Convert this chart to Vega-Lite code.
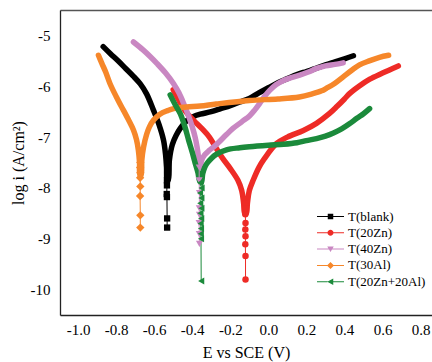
{
"$schema": "https://vega.github.io/schema/vega-lite/v6.json",
"width": 372, "height": 305,
"autosize": {"type": "none"},
"padding": {"left": 60, "top": 10, "right": 0, "bottom": 47},
"config": {
  "view": {"stroke": null},
  "font": "Liberation Serif",
  "axis": {"grid": false, "domainColor": "#222", "domainWidth": 1.3, "tickColor": "#222", "tickWidth": 1.2, "labelColor": "#000", "titleColor": "#000", "labelFont": "Liberation Serif", "titleFont": "Liberation Serif", "labelFontSize": 15, "titleFontSize": 16, "titleFontWeight": "normal"},
  "legend": {"labelFont": "Liberation Serif"}
},
"datasets": {
"band": [
{"s":"T(blank)","o":1,"x":-0.868,"y":-5.22},{"s":"T(blank)","o":2,"x":-0.83,"y":-5.36},{"s":"T(blank)","o":3,"x":-0.79,"y":-5.5},{"s":"T(blank)","o":4,"x":-0.75,"y":-5.65},{"s":"T(blank)","o":5,"x":-0.71,"y":-5.8},{"s":"T(blank)","o":6,"x":-0.674,"y":-5.95},{"s":"T(blank)","o":7,"x":-0.64,"y":-6.15},{"s":"T(blank)","o":8,"x":-0.604,"y":-6.47},{"s":"T(blank)","o":9,"x":-0.575,"y":-6.75},{"s":"T(blank)","o":10,"x":-0.551,"y":-7.06},{"s":"T(blank)","o":11,"x":-0.54,"y":-7.35},{"s":"T(blank)","o":12,"x":-0.535,"y":-7.6},{"s":"T(blank)","o":13,"x":-0.532,"y":-7.85},{"s":"T(blank)","o":14,"x":-0.526,"y":-7.85},{"s":"T(blank)","o":15,"x":-0.52,"y":-7.45},{"s":"T(blank)","o":16,"x":-0.505,"y":-7.15},{"s":"T(blank)","o":17,"x":-0.485,"y":-6.97},{"s":"T(blank)","o":18,"x":-0.463,"y":-6.83},{"s":"T(blank)","o":19,"x":-0.43,"y":-6.68},{"s":"T(blank)","o":20,"x":-0.39,"y":-6.59},{"s":"T(blank)","o":21,"x":-0.358,"y":-6.55},{"s":"T(blank)","o":22,"x":-0.3,"y":-6.5},{"s":"T(blank)","o":23,"x":-0.25,"y":-6.44},{"s":"T(blank)","o":24,"x":-0.2,"y":-6.38},{"s":"T(blank)","o":25,"x":-0.15,"y":-6.31},{"s":"T(blank)","o":26,"x":-0.1,"y":-6.24},{"s":"T(blank)","o":27,"x":-0.05,"y":-6.13},{"s":"T(blank)","o":28,"x":0.0,"y":-6.03},{"s":"T(blank)","o":29,"x":0.05,"y":-5.93},{"s":"T(blank)","o":30,"x":0.1,"y":-5.85},{"s":"T(blank)","o":31,"x":0.15,"y":-5.77},{"s":"T(blank)","o":32,"x":0.2,"y":-5.71},{"s":"T(blank)","o":33,"x":0.25,"y":-5.65},{"s":"T(blank)","o":34,"x":0.3,"y":-5.58},{"s":"T(blank)","o":35,"x":0.35,"y":-5.52},{"s":"T(blank)","o":36,"x":0.4,"y":-5.46},{"s":"T(blank)","o":37,"x":0.447,"y":-5.4},
{"s":"T(20Zn)","o":1,"x":-0.5,"y":-6.07},{"s":"T(20Zn)","o":2,"x":-0.47,"y":-6.28},{"s":"T(20Zn)","o":3,"x":-0.43,"y":-6.52},{"s":"T(20Zn)","o":4,"x":-0.39,"y":-6.68},{"s":"T(20Zn)","o":5,"x":-0.35,"y":-6.83},{"s":"T(20Zn)","o":6,"x":-0.31,"y":-7.0},{"s":"T(20Zn)","o":7,"x":-0.274,"y":-7.22},{"s":"T(20Zn)","o":8,"x":-0.24,"y":-7.42},{"s":"T(20Zn)","o":9,"x":-0.2,"y":-7.62},{"s":"T(20Zn)","o":10,"x":-0.16,"y":-7.85},{"s":"T(20Zn)","o":11,"x":-0.14,"y":-8.05},{"s":"T(20Zn)","o":12,"x":-0.13,"y":-8.3},{"s":"T(20Zn)","o":13,"x":-0.124,"y":-8.5},{"s":"T(20Zn)","o":14,"x":-0.116,"y":-8.5},{"s":"T(20Zn)","o":15,"x":-0.11,"y":-8.3},{"s":"T(20Zn)","o":16,"x":-0.1,"y":-8.05},{"s":"T(20Zn)","o":17,"x":-0.08,"y":-7.85},{"s":"T(20Zn)","o":18,"x":-0.05,"y":-7.6},{"s":"T(20Zn)","o":19,"x":-0.02,"y":-7.42},{"s":"T(20Zn)","o":20,"x":0.042,"y":-7.13},{"s":"T(20Zn)","o":21,"x":0.1,"y":-7.0},{"s":"T(20Zn)","o":22,"x":0.184,"y":-6.87},{"s":"T(20Zn)","o":23,"x":0.253,"y":-6.73},{"s":"T(20Zn)","o":24,"x":0.32,"y":-6.54},{"s":"T(20Zn)","o":25,"x":0.36,"y":-6.4},{"s":"T(20Zn)","o":26,"x":0.4,"y":-6.25},{"s":"T(20Zn)","o":27,"x":0.428,"y":-6.14},{"s":"T(20Zn)","o":28,"x":0.48,"y":-5.99},{"s":"T(20Zn)","o":29,"x":0.533,"y":-5.86},{"s":"T(20Zn)","o":30,"x":0.6,"y":-5.74},{"s":"T(20Zn)","o":31,"x":0.683,"y":-5.6},
{"s":"T(40Zn)","o":1,"x":-0.709,"y":-5.13},{"s":"T(40Zn)","o":2,"x":-0.66,"y":-5.28},{"s":"T(40Zn)","o":3,"x":-0.62,"y":-5.42},{"s":"T(40Zn)","o":4,"x":-0.586,"y":-5.55},{"s":"T(40Zn)","o":5,"x":-0.54,"y":-5.74},{"s":"T(40Zn)","o":6,"x":-0.498,"y":-5.95},{"s":"T(40Zn)","o":7,"x":-0.47,"y":-6.13},{"s":"T(40Zn)","o":8,"x":-0.445,"y":-6.34},{"s":"T(40Zn)","o":9,"x":-0.42,"y":-6.58},{"s":"T(40Zn)","o":10,"x":-0.4,"y":-6.8},{"s":"T(40Zn)","o":11,"x":-0.385,"y":-7.0},{"s":"T(40Zn)","o":12,"x":-0.375,"y":-7.19},{"s":"T(40Zn)","o":13,"x":-0.367,"y":-7.4},{"s":"T(40Zn)","o":14,"x":-0.364,"y":-7.6},{"s":"T(40Zn)","o":15,"x":-0.36,"y":-7.6},{"s":"T(40Zn)","o":16,"x":-0.35,"y":-7.45},{"s":"T(40Zn)","o":17,"x":-0.335,"y":-7.35},{"s":"T(40Zn)","o":18,"x":-0.31,"y":-7.26},{"s":"T(40Zn)","o":19,"x":-0.274,"y":-7.15},{"s":"T(40Zn)","o":20,"x":-0.22,"y":-6.95},{"s":"T(40Zn)","o":21,"x":-0.186,"y":-6.83},{"s":"T(40Zn)","o":22,"x":-0.14,"y":-6.7},{"s":"T(40Zn)","o":23,"x":-0.098,"y":-6.58},{"s":"T(40Zn)","o":24,"x":-0.07,"y":-6.46},{"s":"T(40Zn)","o":25,"x":-0.046,"y":-6.34},{"s":"T(40Zn)","o":26,"x":-0.02,"y":-6.2},{"s":"T(40Zn)","o":27,"x":0.007,"y":-6.08},{"s":"T(40Zn)","o":28,"x":0.04,"y":-5.97},{"s":"T(40Zn)","o":29,"x":0.077,"y":-5.89},{"s":"T(40Zn)","o":30,"x":0.12,"y":-5.83},{"s":"T(40Zn)","o":31,"x":0.165,"y":-5.78},{"s":"T(40Zn)","o":32,"x":0.21,"y":-5.72},{"s":"T(40Zn)","o":33,"x":0.253,"y":-5.65},{"s":"T(40Zn)","o":34,"x":0.3,"y":-5.6},{"s":"T(40Zn)","o":35,"x":0.35,"y":-5.57},{"s":"T(40Zn)","o":36,"x":0.393,"y":-5.54},
{"s":"T(30Al)","o":1,"x":-0.893,"y":-5.39},{"s":"T(30Al)","o":2,"x":-0.875,"y":-5.55},{"s":"T(30Al)","o":3,"x":-0.855,"y":-5.72},{"s":"T(30Al)","o":4,"x":-0.832,"y":-5.95},{"s":"T(30Al)","o":5,"x":-0.8,"y":-6.2},{"s":"T(30Al)","o":6,"x":-0.762,"y":-6.47},{"s":"T(30Al)","o":7,"x":-0.735,"y":-6.66},{"s":"T(30Al)","o":8,"x":-0.709,"y":-6.86},{"s":"T(30Al)","o":9,"x":-0.693,"y":-7.05},{"s":"T(30Al)","o":10,"x":-0.683,"y":-7.26},{"s":"T(30Al)","o":11,"x":-0.677,"y":-7.5},{"s":"T(30Al)","o":12,"x":-0.675,"y":-7.75},{"s":"T(30Al)","o":13,"x":-0.669,"y":-7.75},{"s":"T(30Al)","o":14,"x":-0.665,"y":-7.45},{"s":"T(30Al)","o":15,"x":-0.656,"y":-7.2},{"s":"T(30Al)","o":16,"x":-0.64,"y":-6.95},{"s":"T(30Al)","o":17,"x":-0.625,"y":-6.8},{"s":"T(30Al)","o":18,"x":-0.604,"y":-6.67},{"s":"T(30Al)","o":19,"x":-0.57,"y":-6.55},{"s":"T(30Al)","o":20,"x":-0.53,"y":-6.48},{"s":"T(30Al)","o":21,"x":-0.498,"y":-6.44},{"s":"T(30Al)","o":22,"x":-0.43,"y":-6.41},{"s":"T(30Al)","o":23,"x":-0.358,"y":-6.39},{"s":"T(30Al)","o":24,"x":-0.274,"y":-6.35},{"s":"T(30Al)","o":25,"x":-0.1,"y":-6.28},{"s":"T(30Al)","o":26,"x":0.05,"y":-6.25},{"s":"T(30Al)","o":27,"x":0.163,"y":-6.21},{"s":"T(30Al)","o":28,"x":0.23,"y":-6.15},{"s":"T(30Al)","o":29,"x":0.28,"y":-6.09},{"s":"T(30Al)","o":30,"x":0.305,"y":-6.04},{"s":"T(30Al)","o":31,"x":0.35,"y":-5.94},{"s":"T(30Al)","o":32,"x":0.395,"y":-5.81},{"s":"T(30Al)","o":33,"x":0.44,"y":-5.68},{"s":"T(30Al)","o":34,"x":0.479,"y":-5.58},{"s":"T(30Al)","o":35,"x":0.53,"y":-5.5},{"s":"T(30Al)","o":36,"x":0.584,"y":-5.43},{"s":"T(30Al)","o":37,"x":0.632,"y":-5.39},
{"s":"T(20Zn+20Al)","o":1,"x":-0.516,"y":-6.17},{"s":"T(20Zn+20Al)","o":2,"x":-0.49,"y":-6.36},{"s":"T(20Zn+20Al)","o":3,"x":-0.463,"y":-6.54},{"s":"T(20Zn+20Al)","o":4,"x":-0.44,"y":-6.78},{"s":"T(20Zn+20Al)","o":5,"x":-0.419,"y":-7.06},{"s":"T(20Zn+20Al)","o":6,"x":-0.4,"y":-7.3},{"s":"T(20Zn+20Al)","o":7,"x":-0.384,"y":-7.52},{"s":"T(20Zn+20Al)","o":8,"x":-0.37,"y":-7.7},{"s":"T(20Zn+20Al)","o":9,"x":-0.362,"y":-7.85},{"s":"T(20Zn+20Al)","o":10,"x":-0.352,"y":-7.9},{"s":"T(20Zn+20Al)","o":11,"x":-0.345,"y":-7.72},{"s":"T(20Zn+20Al)","o":12,"x":-0.335,"y":-7.6},{"s":"T(20Zn+20Al)","o":13,"x":-0.323,"y":-7.52},{"s":"T(20Zn+20Al)","o":14,"x":-0.3,"y":-7.42},{"s":"T(20Zn+20Al)","o":15,"x":-0.274,"y":-7.34},{"s":"T(20Zn+20Al)","o":16,"x":-0.22,"y":-7.25},{"s":"T(20Zn+20Al)","o":17,"x":-0.15,"y":-7.21},{"s":"T(20Zn+20Al)","o":18,"x":-0.1,"y":-7.19},{"s":"T(20Zn+20Al)","o":19,"x":0.0,"y":-7.16},{"s":"T(20Zn+20Al)","o":20,"x":0.08,"y":-7.14},{"s":"T(20Zn+20Al)","o":21,"x":0.15,"y":-7.11},{"s":"T(20Zn+20Al)","o":22,"x":0.2,"y":-7.07},{"s":"T(20Zn+20Al)","o":23,"x":0.253,"y":-7.03},{"s":"T(20Zn+20Al)","o":24,"x":0.3,"y":-6.98},{"s":"T(20Zn+20Al)","o":25,"x":0.342,"y":-6.92},{"s":"T(20Zn+20Al)","o":26,"x":0.385,"y":-6.84},{"s":"T(20Zn+20Al)","o":27,"x":0.426,"y":-6.74},{"s":"T(20Zn+20Al)","o":28,"x":0.465,"y":-6.63},{"s":"T(20Zn+20Al)","o":29,"x":0.5,"y":-6.54},{"s":"T(20Zn+20Al)","o":30,"x":0.532,"y":-6.44}
],
"tail": [
{"s":"T(blank)","o":1,"x":-0.533,"y":-7.85},{"s":"T(blank)","o":2,"x":-0.533,"y":-7.95},{"s":"T(blank)","o":3,"x":-0.534,"y":-8.12},{"s":"T(blank)","o":4,"x":-0.533,"y":-8.18},{"s":"T(blank)","o":5,"x":-0.532,"y":-8.6},{"s":"T(blank)","o":6,"x":-0.532,"y":-8.78},
{"s":"T(20Zn)","o":1,"x":-0.121,"y":-8.3},{"s":"T(20Zn)","o":2,"x":-0.12,"y":-8.4},{"s":"T(20Zn)","o":3,"x":-0.121,"y":-8.52},{"s":"T(20Zn)","o":4,"x":-0.12,"y":-8.69},{"s":"T(20Zn)","o":5,"x":-0.121,"y":-8.82},{"s":"T(20Zn)","o":6,"x":-0.12,"y":-8.95},{"s":"T(20Zn)","o":7,"x":-0.121,"y":-9.11},{"s":"T(20Zn)","o":8,"x":-0.12,"y":-9.34},{"s":"T(20Zn)","o":9,"x":-0.12,"y":-9.8},
{"s":"T(40Zn)","o":1,"x":-0.363,"y":-7.6},{"s":"T(40Zn)","o":2,"x":-0.364,"y":-7.85},{"s":"T(40Zn)","o":3,"x":-0.362,"y":-8.1},{"s":"T(40Zn)","o":4,"x":-0.363,"y":-8.4},{"s":"T(40Zn)","o":5,"x":-0.362,"y":-8.53},{"s":"T(40Zn)","o":6,"x":-0.364,"y":-8.69},{"s":"T(40Zn)","o":7,"x":-0.363,"y":-8.91},{"s":"T(40Zn)","o":8,"x":-0.362,"y":-9.1},
{"s":"T(30Al)","o":1,"x":-0.673,"y":-7.5},{"s":"T(30Al)","o":2,"x":-0.674,"y":-7.6},{"s":"T(30Al)","o":3,"x":-0.673,"y":-7.7},{"s":"T(30Al)","o":4,"x":-0.674,"y":-7.8},{"s":"T(30Al)","o":5,"x":-0.673,"y":-7.97},{"s":"T(30Al)","o":6,"x":-0.674,"y":-8.16},{"s":"T(30Al)","o":7,"x":-0.673,"y":-8.54},{"s":"T(30Al)","o":8,"x":-0.673,"y":-8.78},
{"s":"T(20Zn+20Al)","o":1,"x":-0.359,"y":-7.9},{"s":"T(20Zn+20Al)","o":2,"x":-0.351,"y":-8.0},{"s":"T(20Zn+20Al)","o":3,"x":-0.359,"y":-8.1},{"s":"T(20Zn+20Al)","o":4,"x":-0.352,"y":-8.2},{"s":"T(20Zn+20Al)","o":5,"x":-0.358,"y":-8.3},{"s":"T(20Zn+20Al)","o":6,"x":-0.352,"y":-8.4},{"s":"T(20Zn+20Al)","o":7,"x":-0.357,"y":-8.5},{"s":"T(20Zn+20Al)","o":8,"x":-0.353,"y":-8.6},{"s":"T(20Zn+20Al)","o":9,"x":-0.356,"y":-8.7},{"s":"T(20Zn+20Al)","o":10,"x":-0.354,"y":-8.8},{"s":"T(20Zn+20Al)","o":11,"x":-0.355,"y":-8.9},{"s":"T(20Zn+20Al)","o":12,"x":-0.354,"y":-9.0},{"s":"T(20Zn+20Al)","o":13,"x":-0.353,"y":-9.83}
]
},
"layer": [
{
 "data": {"name": "band"},
 "mark": {"type": "line", "strokeWidth": 5.5, "interpolate": "catmull-rom", "strokeCap": "round", "strokeJoin": "round"},
 "encoding": {
  "x": {"field": "x", "type": "quantitative", "scale": {"domain": [-1.095, 0.86], "nice": false, "zero": false},
   "axis": {"title": "E vs SCE (V)", "orient": "bottom", "values": [-1.0,-0.9,-0.8,-0.7,-0.6,-0.5,-0.4,-0.3,-0.2,-0.1,0,0.1,0.2,0.3,0.4,0.5,0.6,0.7,0.8],
    "labelExpr": "abs(round(datum.value*10))%2==1 ? '' : replace(format(datum.value,'.1f'),'\u2212','-')",
    "tickSize": 0, "labelPadding": 7, "titlePadding": 7,
    "labelFont": "Liberation Serif", "titleFont": "Liberation Serif",
    "encode": {"ticks": {"update": {"y2": {"signal": "abs(round(datum.value*10))%2==1 ? -3 : -6"}}}}}},
  "y": {"field": "y", "type": "quantitative", "scale": {"domain": [-10.5, -4.5], "nice": false, "zero": false},
   "axis": {"title": "log i (A/cm\u00b2)", "values": [-10,-9.5,-9,-8.5,-8,-7.5,-7,-6.5,-6,-5.5,-5],
    "labelExpr": "datum.value%1!=0 ? '' : replace(format(datum.value,'d'),'\u2212','-')",
    "tickSize": 0, "labelPadding": 10, "titlePadding": 4,
    "labelFont": "Liberation Serif", "titleFont": "Liberation Serif",
    "encode": {"ticks": {"update": {"x2": {"signal": "datum.value%1!=0 ? 3 : 6"}}}}}},
  "color": {"field": "s", "type": "nominal",
   "scale": {"domain": ["T(blank)","T(20Zn)","T(40Zn)","T(30Al)","T(20Zn+20Al)"], "range": ["#000000","#EE2B26","#C987C2","#F6872A","#1B8A3B"]}},
  "order": {"field": "o", "type": "quantitative"}
 }
},
{
 "data": {"name": "tail"},
 "mark": {"type": "line", "strokeWidth": 1},
 "encoding": {
  "x": {"field": "x", "type": "quantitative", "axis": null},
  "y": {"field": "y", "type": "quantitative"},
  "color": {"field": "s", "type": "nominal"},
  "order": {"field": "o", "type": "quantitative"}
 }
},
{
 "data": {"name": "tail"},
 "transform": [{"filter": "datum.s === 'T(blank)'"}],
 "mark": {"type": "point", "filled": true, "opacity": 1, "size": 40, "shape": "square"},
 "encoding": {"x": {"field": "x", "type": "quantitative", "axis": null}, "y": {"field": "y", "type": "quantitative"}, "color": {"field": "s", "type": "nominal"}}
},
{
 "data": {"name": "tail"},
 "transform": [{"filter": "datum.s === 'T(20Zn)'"}],
 "mark": {"type": "point", "filled": true, "opacity": 1, "size": 42, "shape": "circle"},
 "encoding": {"x": {"field": "x", "type": "quantitative", "axis": null}, "y": {"field": "y", "type": "quantitative"}, "color": {"field": "s", "type": "nominal"}}
},
{
 "data": {"name": "tail"},
 "transform": [{"filter": "datum.s === 'T(40Zn)'"}],
 "mark": {"type": "point", "filled": true, "opacity": 1, "size": 50, "shape": "triangle-down"},
 "encoding": {"x": {"field": "x", "type": "quantitative", "axis": null}, "y": {"field": "y", "type": "quantitative"}, "color": {"field": "s", "type": "nominal"}}
},
{
 "data": {"name": "tail"},
 "transform": [{"filter": "datum.s === 'T(30Al)'"}],
 "mark": {"type": "point", "filled": true, "opacity": 1, "size": 70, "shape": "diamond"},
 "encoding": {"x": {"field": "x", "type": "quantitative", "axis": null}, "y": {"field": "y", "type": "quantitative"}, "color": {"field": "s", "type": "nominal"}}
},
{
 "data": {"name": "tail"},
 "transform": [{"filter": "datum.s === 'T(20Zn+20Al)'"}],
 "mark": {"type": "point", "filled": true, "opacity": 1, "size": 50, "shape": "triangle-left"},
 "encoding": {"x": {"field": "x", "type": "quantitative", "axis": null}, "y": {"field": "y", "type": "quantitative"}, "color": {"field": "s", "type": "nominal"}}
},
{
 "data": {"name": "tail"},
 "transform": [{"filter": "datum.o < 0"}],
 "mark": {"type": "point", "filled": true, "opacity": 1},
 "encoding": {
  "x": {"field": "x", "type": "quantitative", "axis": null},
  "y": {"field": "y", "type": "quantitative"},
  "color": {"field": "s", "type": "nominal",
   "legend": {"title": null, "orient": "none", "legendX": 257, "legendY": 200, "padding": 0, "labelFont": "Liberation Serif", "labelFontSize": 13, "labelColor": "#000", "symbolSize": 100, "symbolOffset": 7, "labelOffset": 11, "rowPadding": 2.3, "symbolStrokeWidth": 0}},
  "shape": {"field": "s", "type": "nominal",
   "scale": {"domain": ["T(blank)","T(20Zn)","T(40Zn)","T(30Al)","T(20Zn+20Al)"],
    "range": ["M-2.7,-0.1H-0.5V0.1H-2.7ZM0.5,-0.1H2.7V0.1H0.5ZM-0.55,-0.55H0.55V0.55H-0.55Z",
              "M-2.7,-0.1H-0.5V0.1H-2.7ZM0.5,-0.1H2.7V0.1H0.5ZM-0.6,0A0.6,0.6 0 1 1 0.6,0A0.6,0.6 0 1 1 -0.6,0Z",
              "M-2.7,-0.1H-0.3V0.1H-2.7ZM0.3,-0.1H2.7V0.1H0.3ZM-0.65,-0.5L0.65,-0.5L0,0.6Z",
              "M-2.7,-0.1H-0.6V0.1H-2.7ZM0.6,-0.1H2.7V0.1H0.6ZM0,-0.7L0.7,0L0,0.7L-0.7,0Z",
              "M-2.7,-0.1H-0.6V0.1H-2.7ZM0.5,-0.1H2.7V0.1H0.5ZM-0.65,0L0.55,-0.65L0.55,0.65Z"]},
   "legend": {"title": null, "orient": "none", "legendX": 257, "legendY": 200, "padding": 0, "labelFont": "Liberation Serif", "labelFontSize": 13, "labelColor": "#000", "symbolSize": 100, "symbolOffset": 7, "labelOffset": 11, "rowPadding": 2.3, "symbolStrokeWidth": 0}}
 }
},
{
 "data": {"name": "tail"},
 "mark": {"type": "point", "opacity": 0},
 "encoding": {
  "x": {"field": "x", "type": "quantitative", "axis": {"orient": "top", "labels": false, "ticks": false, "title": null, "domainColor": "#555", "domainWidth": 1.3}}
 }
}
],
"resolve": {"axis": {"x": "independent"}}
}
